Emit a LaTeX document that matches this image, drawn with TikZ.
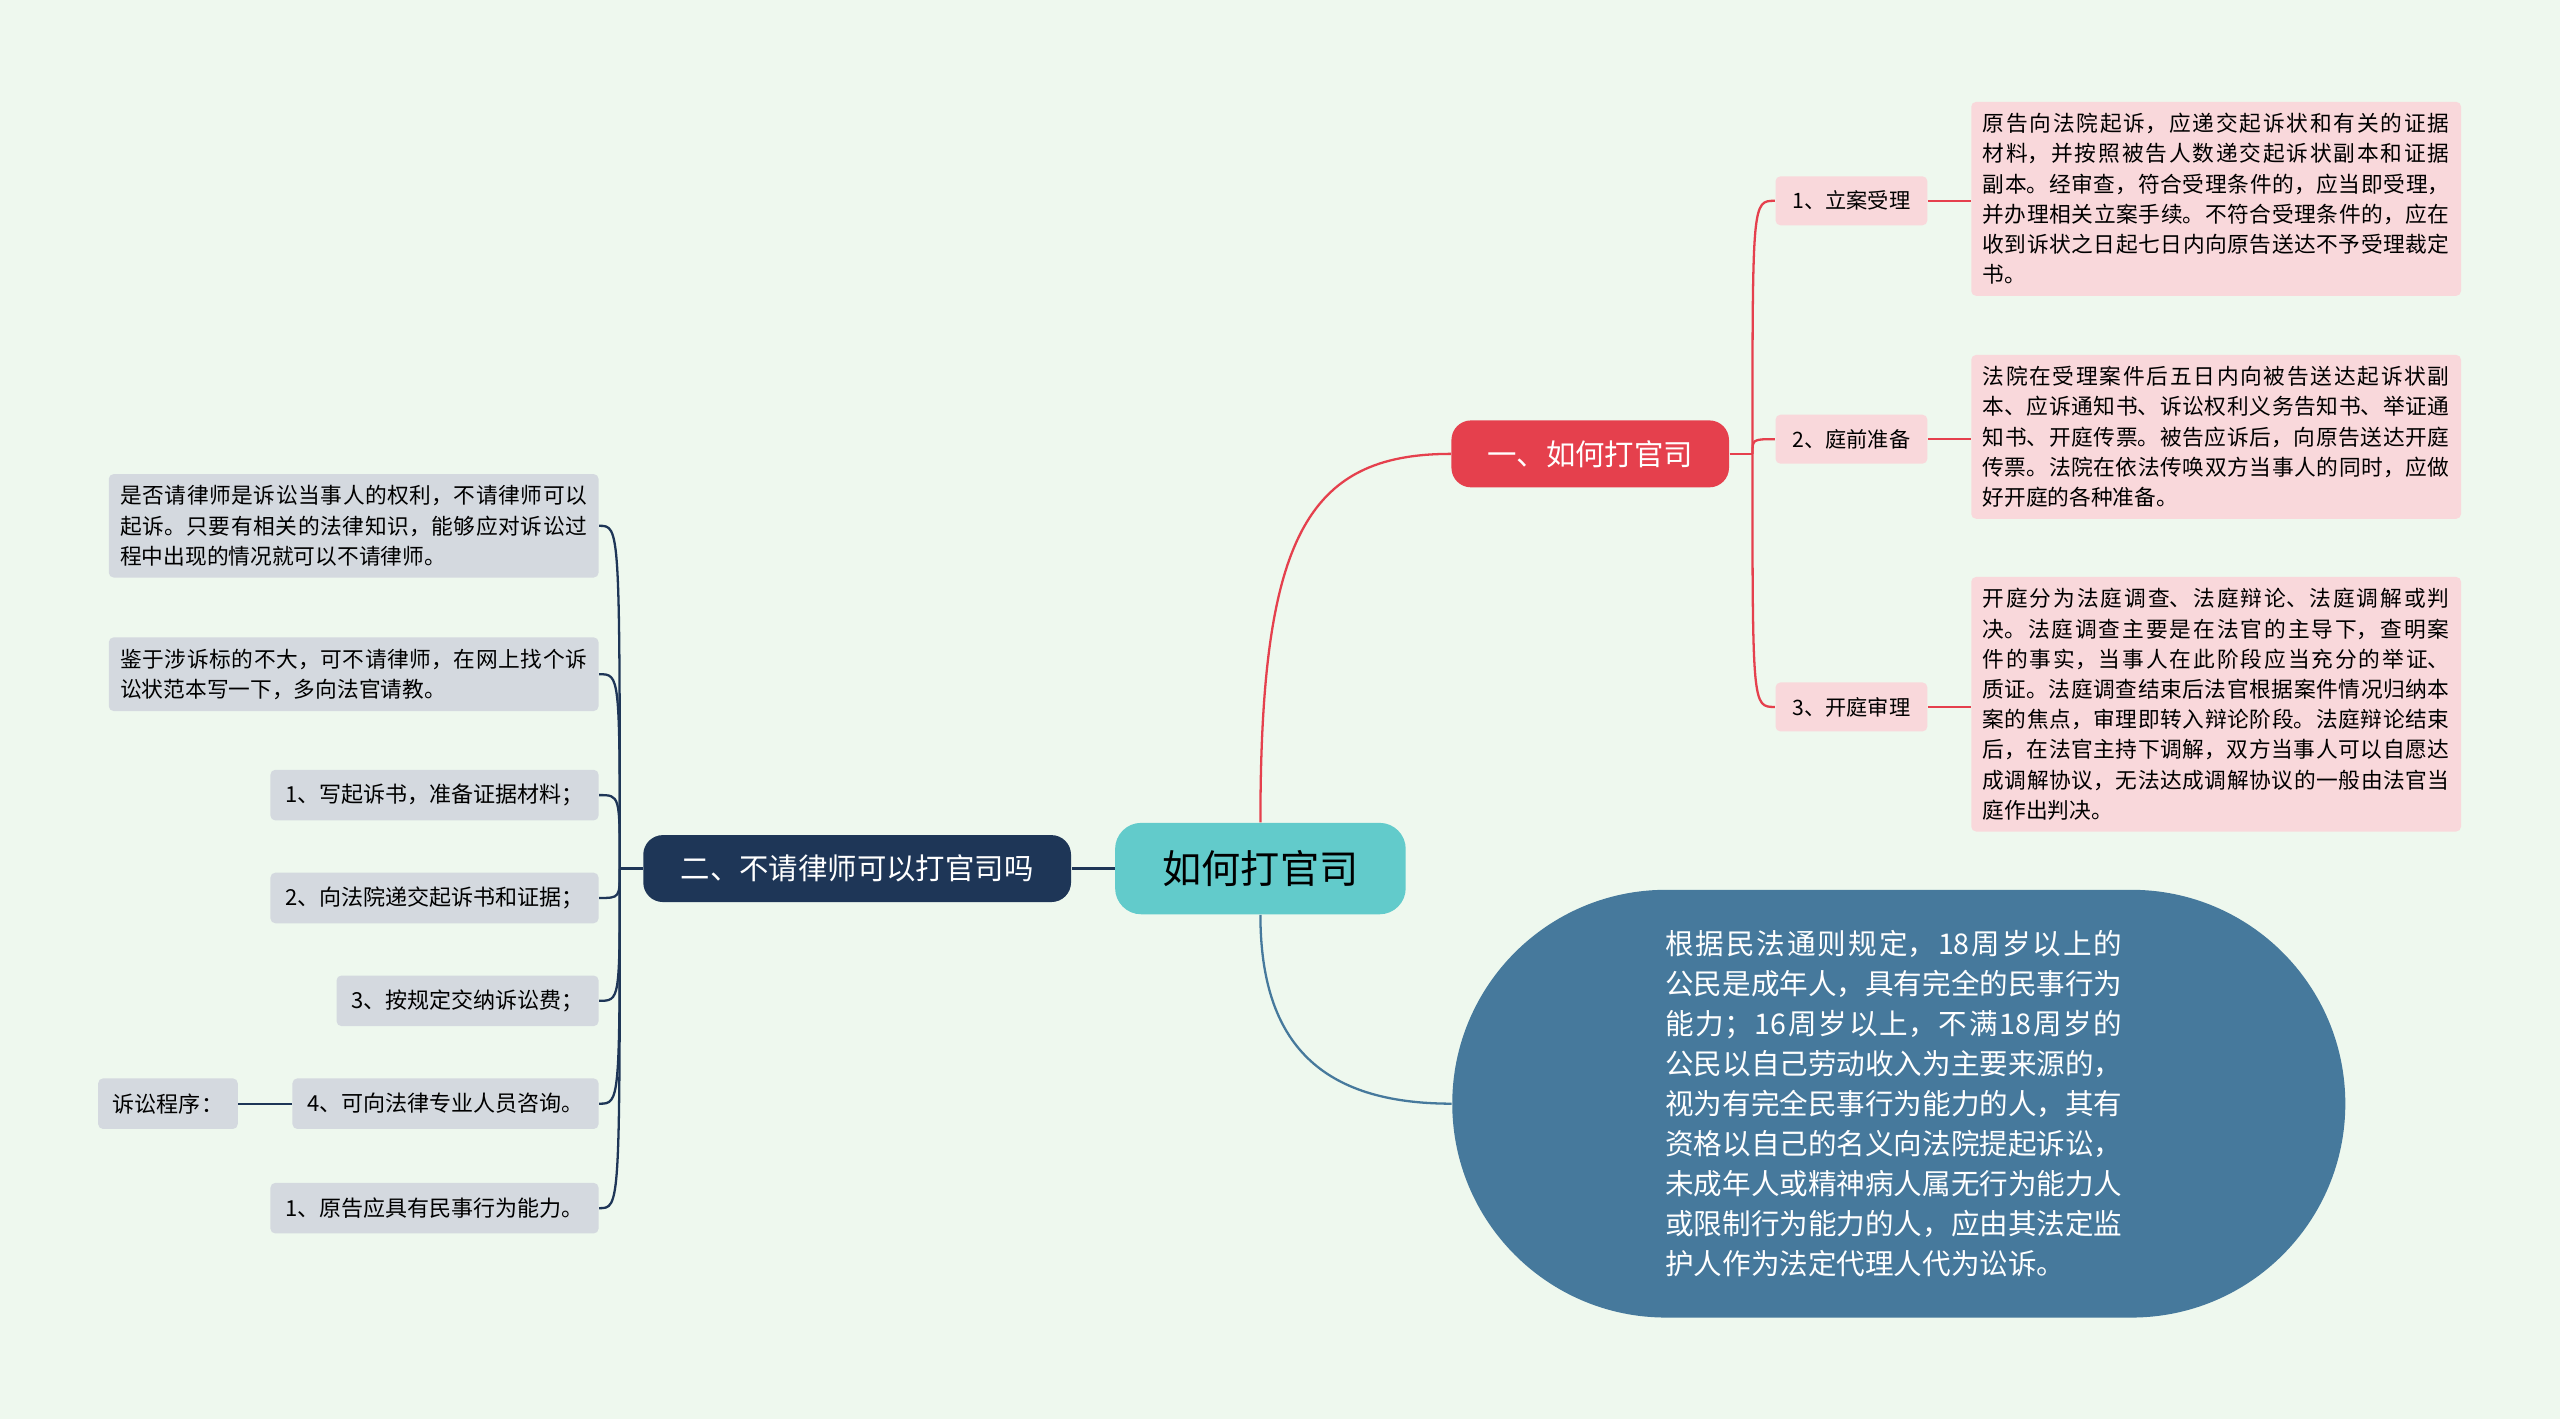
\documentclass[tikz,border=0pt]{standalone}
\usepackage{fontspec}
\setmainfont{Noto Sans CJK SC}
\XeTeXlinebreaklocale "zh"
\XeTeXlinebreakskip=0pt plus 1pt
\usetikzlibrary{positioning}
\definecolor{bgc}{HTML}{EEF8EE}
\definecolor{rootc}{HTML}{62CBCB}
\definecolor{redc}{HTML}{E5404D}
\definecolor{navyc}{HTML}{1E3657}
\definecolor{pinkc}{HTML}{F9D8DB}
\definecolor{grayc}{HTML}{D4D9DF}
\definecolor{bluec}{HTML}{46799C}
\tikzset{every picture/.style={line width=0.75pt}}
\tikzset{
  rootbox/.style={fill=rootc,rounded corners=16pt,minimum width=178pt,minimum height=56pt,font=\fontsize{24}{28}\selectfont},
  mainbox/.style={rounded corners=12pt,text=white,minimum height=41pt,font=\fontsize{18}{22}\selectfont},
  pinkbox/.style={fill=pinkc,rounded corners=3pt,minimum width=93pt,minimum height=30pt,font=\fontsize{13}{16}\selectfont},
  pinktext/.style={fill=pinkc,rounded corners=3pt,anchor=north west,text width=286pt,inner sep=7pt,align=justify,font=\fontsize{13.3}{18.5}\selectfont},
  graybox/.style={fill=grayc,rounded corners=3pt,minimum height=31pt,inner xsep=9pt,font=\fontsize{13.5}{16}\selectfont},
  graytext/.style={fill=grayc,rounded corners=3pt,text width=286pt,inner sep=7pt,align=justify,font=\fontsize{13.3}{18.5}\selectfont},
  redline/.style={draw=redc,line width=1.4pt},
  navyline/.style={draw=navyc,line width=1.4pt},
  blueline/.style={draw=bluec,line width=1.4pt}
}
\begin{document}
\begin{tikzpicture}[x=1pt,y=1pt,yscale=-1]
  \fill[bgc] (0,0) rectangle (1568,869);
  \useasboundingbox (0,0) rectangle (1568,869);

  % main nodes
  \node[rootbox] (root) at (772,532) {如何打官司};
  \node[mainbox,fill=redc,minimum width=170pt] (how) at (974,278) {一、如何打官司};
  \node[mainbox,fill=navyc,minimum width=262pt] (nolaw) at (525,532) {二、不请律师可以打官司吗};
  \node[fill=bluec,rounded corners=131pt,minimum width=547pt,minimum height=262pt] (age) at (1163,676) {};
  \node[text=white,text width=280pt,align=justify,font=\fontsize{17.5}{24.5}\selectfont] (agetxt) at (1160,676) {根据民法通则规定，18周岁以上的公民是成年人，具有完全的民事行为能力；16周岁以上，不满18周岁的公民以自己劳动收入为主要来源的，视为有完全民事行为能力的人，其有资格以自己的名义向法院提起诉讼，未成年人或精神病人属无行为能力人或限制行为能力的人，应由其法定监护人作为法定代理人代为讼诉。};

  % right branch
  \node[pinkbox] (s1) at (1134,123) {1、立案受理};
  \node[pinkbox] (s2) at (1134,269) {2、庭前准备};
  \node[pinkbox] (s3) at (1134,433) {3、开庭审理};
  \node[pinktext] (t1) at (1207,62) {原告向法院起诉，应递交起诉状和有关的证据材料，并按照被告人数递交起诉状副本和证据副本。经审查，符合受理条件的，应当即受理，并办理相关立案手续。不符合受理条件的，应在收到诉状之日起七日内向原告送达不予受理裁定书。};
  \node[pinktext] (t2) at (1207,217) {法院在受理案件后五日内向被告送达起诉状副本、应诉通知书、诉讼权利义务告知书、举证通知书、开庭传票。被告应诉后，向原告送达开庭传票。法院在依法传唤双方当事人的同时，应做好开庭的各种准备。};
  \node[pinktext] (t3) at (1207,353) {开庭分为法庭调查、法庭辩论、法庭调解或判决。法庭调查主要是在法官的主导下，查明案件的事实，当事人在此阶段应当充分的举证、质证。法庭调查结束后法官根据案件情况归纳本案的焦点，审理即转入辩论阶段。法庭辩论结束后，在法官主持下调解，双方当事人可以自愿达成调解协议，无法达成调解协议的一般由法官当庭作出判决。};

  % left branch
  \node[graytext,anchor=north east] (g1) at (367,290) {是否请律师是诉讼当事人的权利，不请律师可以起诉。只要有相关的法律知识，能够应对诉讼过程中出现的情况就可以不请律师。};
  \node[graytext,anchor=north east] (g2) at (367,390) {鉴于涉诉标的不大，可不请律师，在网上找个诉讼状范本写一下，多向法官请教。};
  \node[graybox,anchor=east] (g3) at (367,487) {1、写起诉书，准备证据材料；};
  \node[graybox,anchor=east] (g4) at (367,550) {2、向法院递交起诉书和证据；};
  \node[graybox,anchor=east] (g5) at (367,613) {3、按规定交纳诉讼费；};
  \node[graybox,anchor=east] (g6) at (367,676) {4、可向法律专业人员咨询。};
  \node[graybox,anchor=east] (g7) at (367,740) {1、原告应具有民事行为能力。};
  \node[graybox,anchor=east] (proc) at (146,676) {诉讼程序：};

  % connectors
  \draw[redline] (root.north) .. controls (772,330) and (800,278) .. (how.west);
  \draw[blueline] (root.south) .. controls (772,640) and (810,676) .. (age.west);
  \draw[navyline] (root.west) -- (nolaw.east);
  \draw[redline] (how.east) -- ++(14,0) coordinate (hr);
  \foreach \k in {1,2,3} {
    \draw[redline] (hr) .. controls (hr|-s\k.west) and (hr|-s\k.west) .. (s\k.west);
  }
  \draw[redline] (s1.east) -- (t1.west|-s1.east);
  \draw[redline] (s2.east) -- (t2.west|-s2.east);
  \draw[redline] (s3.east) -- (t3.west|-s3.east);
  \draw[navyline] (nolaw.west) -- ++(-14,0) coordinate (nl);
  \foreach \k in {1,...,7} {
    \draw[navyline] (nl) .. controls (nl|-g\k.east) and (nl|-g\k.east) .. (g\k.east);
  }
  \draw[navyline] (proc.east) -- (g6.west);
\end{tikzpicture}
\end{document}
